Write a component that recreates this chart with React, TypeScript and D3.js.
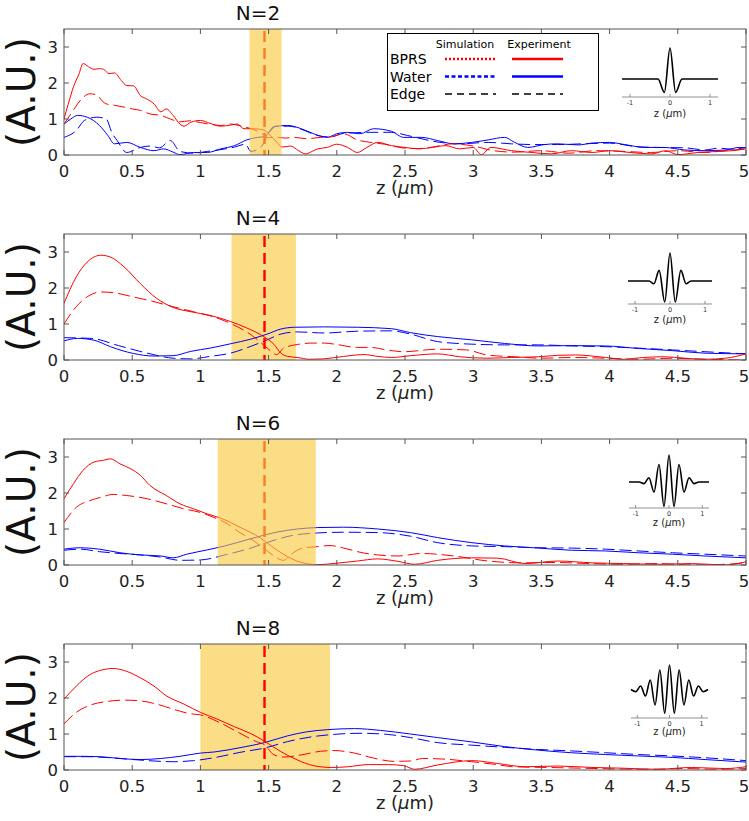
import * as d3 from "d3";

const W = 749, H = 821;
const left = 64, right = 746, panelH = 126;
const tops = [29, 234, 439, 644];

// tick labels and titles
const xTickValues = [0, 0.5, 1, 1.5, 2, 2.5, 3, 3.5, 4, 4.5, 5];
const yTickValues = [0, 1, 2, 3];
const titles = ["N=2", "N=4", "N=6", "N=8"];
const bands = [[1.36, 1.595], [1.228, 1.70], [1.127, 1.846], [1.0, 1.95]];
const edgeZ = 1.47;
const bandOnTop = [true, false, true, false];

// N=2
const redExp1 = [[0,1.0],[0.03,1.4],[0.07,1.9],[0.11,2.25],[0.14,2.54],[0.18,2.45],[0.22,2.38],[0.26,2.4],[0.29,2.38],[0.33,2.26],[0.37,2.28],[0.42,2.07],[0.46,1.93],[0.51,1.92],[0.56,1.65],[0.61,1.55],[0.66,1.42],[0.71,1.2],[0.75,1.28],[0.8,1.1],[0.85,0.86],[0.88,0.8],[0.93,0.91],[1.0,0.96],[1.07,0.88],[1.15,0.8],[1.22,0.83],[1.27,0.86],[1.32,0.73],[1.39,0.73],[1.46,0.7],[1.51,0.55],[1.56,0.36],[1.6,0.22],[1.66,0.25],[1.72,0.12],[1.77,0.03],[1.82,0.1],[1.86,0.17],[1.93,0.21],[2.0,0.3],[2.08,0.21],[2.15,0.07],[2.22,0.21],[2.3,0.35],[2.4,0.26],[2.5,0.21],[2.6,0.17],[2.7,0.21],[2.8,0.26],[2.9,0.17],[3.0,0.21],[3.06,0.01],[3.13,0.21],[3.28,0.12],[3.43,0.07],[3.57,0.03],[3.72,0.12],[3.87,0.07],[4.0,0.12],[4.15,0.07],[4.31,0.03],[4.41,0.12],[4.5,0.01],[4.65,0.07],[4.8,0.1],[4.9,0.12],[5.0,0.17]];
const redSim1 = [[0,0.86],[0.05,1.14],[0.1,1.42],[0.14,1.6],[0.19,1.7],[0.24,1.67],[0.28,1.5],[0.31,1.42],[0.37,1.38],[0.44,1.33],[0.5,1.28],[0.56,1.24],[0.63,1.14],[0.71,1.1],[0.78,1.0],[0.85,0.92],[0.92,0.95],[1.0,0.9],[1.08,0.85],[1.15,0.82],[1.22,0.86],[1.3,0.8],[1.38,0.72],[1.45,0.6],[1.5,0.48],[1.55,0.5],[1.62,0.47],[1.69,0.49],[1.78,0.45],[1.88,0.49],[1.95,0.5],[2.05,0.59],[2.15,0.42],[2.25,0.35],[2.35,0.3],[2.5,0.19],[2.6,0.18],[2.7,0.22],[2.85,0.31],[3.0,0.25],[3.15,0.12],[3.3,0.08],[3.5,0.12],[3.7,0.05],[3.9,0.12],[4.1,0.1],[4.3,0.07],[4.5,0.12],[4.7,0.07],[4.85,0.12],[5.0,0.17]];
const blueExp1 = [[0,0.86],[0.05,1.0],[0.1,1.1],[0.17,1.05],[0.26,0.82],[0.32,0.55],[0.37,0.31],[0.46,0.35],[0.56,0.21],[0.66,0.12],[0.73,0.17],[0.8,0.08],[0.85,0.01],[0.95,0.07],[1.05,0.07],[1.15,0.17],[1.25,0.26],[1.34,0.42],[1.42,0.49],[1.47,0.51],[1.54,0.79],[1.64,0.82],[1.74,0.73],[1.83,0.59],[1.93,0.49],[2.0,0.59],[2.08,0.63],[2.17,0.59],[2.27,0.73],[2.4,0.66],[2.49,0.49],[2.62,0.49],[2.74,0.4],[2.86,0.31],[2.99,0.35],[3.11,0.42],[3.23,0.49],[3.3,0.36],[3.4,0.21],[3.52,0.29],[3.62,0.31],[3.77,0.28],[3.87,0.33],[4.0,0.35],[4.11,0.29],[4.26,0.21],[4.4,0.21],[4.55,0.14],[4.7,0.12],[4.85,0.14],[4.95,0.21],[5.0,0.2]];
const blueSim1 = [[0,0.49],[0.09,0.68],[0.15,0.96],[0.24,1.05],[0.31,1.0],[0.35,0.63],[0.39,0.4],[0.46,0.07],[0.56,0.21],[0.63,0.25],[0.7,0.2],[0.78,0.4],[0.85,0.1],[0.95,0.05],[1.05,0.1],[1.15,0.15],[1.25,0.22],[1.33,0.3],[1.37,0.1],[1.45,0.25],[1.5,0.6],[1.56,0.8],[1.65,0.8],[1.75,0.7],[1.85,0.55],[1.95,0.5],[2.05,0.6],[2.15,0.62],[2.25,0.63],[2.4,0.63],[2.52,0.54],[2.74,0.36],[2.9,0.31],[3.11,0.35],[3.28,0.31],[3.45,0.29],[3.62,0.29],[3.8,0.31],[4.0,0.33],[4.2,0.23],[4.35,0.21],[4.55,0.2],[4.7,0.14],[4.8,0.19],[4.9,0.16],[5.0,0.21]];

// N=4
const redExp2 = [[0,1.57],[0.09,2.31],[0.17,2.72],[0.27,2.91],[0.34,2.86],[0.44,2.59],[0.56,2.12],[0.68,1.71],[0.8,1.46],[0.93,1.34],[1.07,1.24],[1.22,1.07],[1.34,0.89],[1.46,0.66],[1.54,0.43],[1.59,0.19],[1.64,0.1],[1.71,0.07],[1.8,0.02],[1.9,0.03],[2.05,0.1],[2.2,0.15],[2.3,0.1],[2.4,0.07],[2.54,0.12],[2.74,0.17],[2.9,0.09],[3.1,0.05],[3.28,0.07],[3.48,0.09],[3.62,0.13],[3.75,0.14],[3.97,0.07],[4.1,0.02],[4.25,0.07],[4.4,0.09],[4.55,0.05],[4.7,0.02],[4.85,0.05],[5.0,0.17]];
const redSim2 = [[0,1.0],[0.09,1.48],[0.19,1.8],[0.27,1.89],[0.36,1.87],[0.51,1.75],[0.66,1.62],[0.8,1.48],[0.95,1.34],[1.12,1.17],[1.24,0.98],[1.34,0.78],[1.42,0.56],[1.49,0.33],[1.56,0.15],[1.61,0.33],[1.71,0.43],[1.81,0.47],[1.91,0.47],[2.0,0.43],[2.15,0.35],[2.25,0.35],[2.35,0.29],[2.49,0.23],[2.74,0.3],[2.95,0.28],[3.1,0.14],[3.3,0.09],[3.5,0.05],[3.72,0.07],[3.97,0.05],[4.21,0.02],[4.46,0.05],[4.7,0.02],[5.0,0.0]];
const blueExp2 = [[0,0.53],[0.1,0.6],[0.22,0.55],[0.34,0.37],[0.51,0.18],[0.66,0.11],[0.8,0.12],[0.93,0.24],[1.07,0.33],[1.22,0.45],[1.37,0.58],[1.49,0.72],[1.59,0.86],[1.69,0.91],[1.91,0.92],[2.15,0.91],[2.4,0.87],[2.54,0.76],[2.74,0.65],[2.99,0.56],[3.23,0.46],[3.48,0.39],[3.72,0.4],[3.97,0.39],[4.21,0.32],[4.46,0.26],[4.7,0.19],[5.0,0.17]];
const blueSim2 = [[0,0.62],[0.2,0.6],[0.4,0.4],[0.6,0.2],[0.8,0.05],[0.93,0.03],[1.07,0.1],[1.22,0.19],[1.37,0.38],[1.49,0.56],[1.59,0.72],[1.71,0.78],[1.91,0.75],[2.15,0.8],[2.4,0.81],[2.54,0.72],[2.74,0.51],[2.99,0.44],[3.23,0.42],[3.48,0.42],[3.72,0.39],[3.97,0.37],[4.21,0.33],[4.46,0.28],[4.7,0.23],[5.0,0.17]];

// N=6
const redExp3 = [[0,1.84],[0.07,2.26],[0.14,2.63],[0.22,2.86],[0.29,2.91],[0.34,2.95],[0.41,2.81],[0.49,2.67],[0.56,2.49],[0.63,2.21],[0.75,1.93],[0.85,1.7],[0.95,1.56],[1.05,1.42],[1.15,1.3],[1.29,1.05],[1.44,0.75],[1.54,0.47],[1.64,0.23],[1.74,0.07],[1.86,0.01],[2.0,0.05],[2.15,0.11],[2.3,0.17],[2.45,0.1],[2.57,0.02],[2.74,0.13],[2.99,0.2],[3.18,0.19],[3.38,0.04],[3.62,0.11],[3.87,0.06],[4.1,0.04],[4.35,0.02],[4.6,0.04],[4.85,0.0],[5.0,0.09]];
const redSim3 = [[0,1.18],[0.09,1.6],[0.19,1.79],[0.27,1.88],[0.36,1.96],[0.46,1.93],[0.61,1.84],[0.75,1.7],[0.88,1.56],[1.0,1.46],[1.1,1.32],[1.2,1.14],[1.29,0.9],[1.39,0.67],[1.49,0.39],[1.56,0.2],[1.61,0.13],[1.66,0.28],[1.75,0.47],[1.86,0.51],[1.95,0.54],[2.05,0.47],[2.2,0.33],[2.3,0.28],[2.45,0.25],[2.62,0.32],[2.86,0.25],[3.11,0.11],[3.35,0.06],[3.6,0.07],[3.85,0.04],[4.1,0.02],[4.35,0.04],[4.6,0.0],[4.85,0.02],[5.0,0.06]];
const blueExp3 = [[0,0.44],[0.12,0.48],[0.26,0.44],[0.41,0.34],[0.56,0.28],[0.71,0.25],[0.8,0.2],[0.9,0.3],[1.05,0.42],[1.18,0.53],[1.37,0.73],[1.57,0.92],[1.71,1.0],[1.86,1.04],[2.05,1.05],[2.3,1.0],[2.54,0.9],[2.74,0.76],[2.99,0.62],[3.23,0.53],[3.48,0.47],[3.72,0.41],[3.97,0.39],[4.21,0.34],[4.46,0.3],[4.7,0.25],[5.0,0.2]];
const blueSim3 = [[0,0.41],[0.12,0.44],[0.26,0.37],[0.41,0.32],[0.56,0.28],[0.71,0.22],[0.85,0.13],[1.0,0.14],[1.18,0.28],[1.37,0.47],[1.51,0.65],[1.66,0.81],[1.86,0.89],[2.05,0.91],[2.3,0.9],[2.54,0.8],[2.74,0.62],[2.99,0.53],[3.23,0.51],[3.48,0.48],[3.72,0.47],[3.97,0.44],[4.21,0.39],[4.46,0.34],[4.7,0.3],[5.0,0.25]];

// N=8
const redExp4 = [[0,1.97],[0.09,2.33],[0.19,2.65],[0.26,2.76],[0.36,2.82],[0.46,2.74],[0.56,2.56],[0.66,2.33],[0.75,2.06],[0.88,1.83],[1.0,1.6],[1.12,1.42],[1.25,1.2],[1.37,1.01],[1.47,0.8],[1.59,0.51],[1.71,0.28],[1.83,0.12],[1.96,0.07],[2.08,0.09],[2.23,0.15],[2.38,0.15],[2.49,0.12],[2.57,0.02],[2.74,0.14],[2.99,0.26],[3.18,0.18],[3.38,0.09],[3.62,0.11],[3.87,0.07],[4.1,0.05],[4.35,0.02],[4.6,0.07],[4.85,0.04],[5.0,0.09]];
const redSim4 = [[0,1.28],[0.09,1.6],[0.19,1.8],[0.31,1.9],[0.44,1.94],[0.56,1.92],[0.68,1.83],[0.8,1.69],[0.93,1.56],[1.0,1.53],[1.15,1.3],[1.29,1.02],[1.41,0.79],[1.47,0.7],[1.54,0.42],[1.61,0.36],[1.74,0.42],[1.88,0.52],[1.98,0.54],[2.13,0.47],[2.27,0.33],[2.42,0.24],[2.54,0.25],[2.63,0.32],[2.8,0.3],[2.99,0.23],[3.15,0.16],[3.3,0.09],[3.55,0.07],[3.8,0.05],[4.05,0.03],[4.3,0.02],[4.55,0.04],[4.8,0.02],[5.0,0.04]];
const blueExp4 = [[0,0.38],[0.15,0.38],[0.26,0.37],[0.41,0.32],[0.56,0.29],[0.71,0.32],[0.85,0.38],[1.0,0.47],[1.1,0.5],[1.29,0.62],[1.47,0.76],[1.64,0.95],[1.78,1.06],[1.93,1.12],[2.13,1.15],[2.32,1.1],[2.54,1.0],[2.74,0.9],[2.99,0.78],[3.23,0.65],[3.48,0.55],[3.72,0.48],[3.97,0.43],[4.21,0.39],[4.46,0.35],[4.7,0.29],[5.0,0.22]];
const blueSim4 = [[0,0.37],[0.17,0.37],[0.34,0.34],[0.51,0.29],[0.66,0.25],[0.8,0.23],[0.95,0.26],[1.1,0.34],[1.29,0.49],[1.47,0.61],[1.64,0.79],[1.83,0.93],[1.98,0.99],[2.17,1.02],[2.37,0.99],[2.54,0.9],[2.74,0.76],[2.99,0.69],[3.23,0.63],[3.48,0.57],[3.72,0.53],[3.97,0.48],[4.21,0.43],[4.46,0.39],[4.7,0.34],[5.0,0.26]];

// inset pulse shapes (extrema)
const pulse2 = [[-1.2,0],[-0.3,0],[-0.14,-0.43],[0,1],[0.14,-0.43],[0.3,0],[1.2,0]];
const pulse4 = [[-1.2,0],[-0.6,0],[-0.46,-0.1],[-0.31,0.38],[-0.15,-0.75],[0,1],[0.15,-0.75],[0.31,0.38],[0.46,-0.1],[0.6,0],[1.2,0]];
const pulse6 = [[-1.2,0],[-0.9,0],[-0.75,-0.06],[-0.6,0.16],[-0.45,-0.375],[-0.3,0.65],[-0.15,-0.91],[0,1],[0.15,-0.91],[0.3,0.65],[0.45,-0.375],[0.6,0.16],[0.75,-0.06],[0.9,0],[1.2,0]];
const pulse8 = [[-1.2,0.02],[-1.05,-0.07],[-0.9,0.16],[-0.75,-0.24],[-0.6,0.4],[-0.45,-0.6],[-0.3,0.8],[-0.15,-0.93],[0,1],[0.15,-0.93],[0.3,0.8],[0.45,-0.6],[0.6,0.4],[0.75,-0.24],[0.9,0.16],[1.05,-0.07],[1.2,0.02]];
const insetTicks = [-1, 0, 1];

const panels = [
  {redExp: redExp1, redSim: redSim1, blueExp: blueExp1, blueSim: blueSim1, pulse: pulse2},
  {redExp: redExp2, redSim: redSim2, blueExp: blueExp2, blueSim: blueSim2, pulse: pulse4},
  {redExp: redExp3, redSim: redSim3, blueExp: blueExp3, blueSim: blueSim3, pulse: pulse6},
  {redExp: redExp4, redSim: redSim4, blueExp: blueExp4, blueSim: blueSim4, pulse: pulse8},
];

// inset placement per panel
const insets = [
  {x0: 622, x1: 718, base: 79, amp: 31, axisY: 97, labelY: 117},
  {x0: 628, x1: 712, base: 281, amp: 28, axisY: 304, labelY: 323},
  {x0: 629, x1: 709, base: 482, amp: 27, axisY: 508, labelY: 526},
  {x0: 631, x1: 708, base: 690, amp: 25, axisY: 718, labelY: 735},
];

const font = "DejaVu Sans, sans-serif";
const axisColor = "#555";
const bandFill = "#F8C83C";

const ZLabel = ({x, y, size, fill}: any) => (
  <text x={x} y={y} fontSize={size} fill={fill} textAnchor="middle" fontFamily={font}>
    z (<tspan fontStyle="italic">μ</tspan>m)
  </text>
);

const Inset = ({spec, pulse}: any) => {
  const xs = d3.scaleLinear().domain([-1.2, 1.2]).range([spec.x0, spec.x1]);
  const ys = d3.scaleLinear().domain([0, 1]).range([spec.base, spec.base - spec.amp]);
  const line = d3.line<number[]>().x(d => xs(d[0])).y(d => ys(d[1])).curve(d3.curveMonotoneX);
  return (
    <g>
      <path d={line(pulse) ?? ""} fill="none" stroke="#000" strokeWidth={1.6}/>
      <line x1={spec.x0} x2={spec.x1} y1={spec.axisY} y2={spec.axisY} stroke="#777" strokeWidth={0.8}/>
      {insetTicks.map(t => (
        <g key={t}>
          <line x1={xs(t)} x2={xs(t)} y1={spec.axisY} y2={spec.axisY - 3} stroke="#777" strokeWidth={0.8}/>
          <text x={xs(t)} y={spec.axisY + 7.5} fontSize={6.5} fill="#333" textAnchor="middle" fontFamily={font}>{t}</text>
        </g>
      ))}
      <ZLabel x={(spec.x0 + spec.x1) / 2} y={spec.labelY} size={10} fill="#222"/>
    </g>
  );
};

const Panel = ({i}: {i: number}) => {
  const top = tops[i];
  const bottom = top + panelH;
  const p = panels[i];
  const x = d3.scaleLinear().domain([0, 5]).range([left, right]);
  const y = d3.scaleLinear().domain([0, 3.5]).range([bottom, top]);
  const line = d3.line<number[]>().x(d => x(d[0])).y(d => y(d[1])).curve(d3.curveMonotoneX);
  const [b0, b1] = bands[i];
  const band = (
    <rect x={x(b0)} y={top} width={x(b1) - x(b0)} height={panelH} fill={bandFill} opacity={0.62}/>
  );
  const clipId = `clip${i}`;
  return (
    <g>
      <clipPath id={clipId}><rect x={left} y={top} width={right - left} height={panelH}/></clipPath>
      {!bandOnTop[i] && band}
      <g clipPath={`url(#${clipId})`}>
        <path d={line(p.blueSim) ?? ""} fill="none" stroke="#0000ff" strokeWidth={1} strokeDasharray="12,5"/>
        <path d={line(p.blueExp) ?? ""} fill="none" stroke="#0000ff" strokeWidth={1}/>
        <path d={line(p.redSim) ?? ""} fill="none" stroke="#ff0000" strokeWidth={1} strokeDasharray="12,5"/>
        <path d={line(p.redExp) ?? ""} fill="none" stroke="#ff0000" strokeWidth={1}/>
        <line x1={x(edgeZ)} x2={x(edgeZ)} y1={top + 2} y2={bottom} stroke="#ff0000" strokeWidth={2.4} strokeDasharray="11,6"/>
      </g>
      {bandOnTop[i] && band}
      <rect x={left} y={top} width={right - left} height={panelH} fill="none" stroke={axisColor} strokeWidth={1}/>
      {xTickValues.map(t => (
        <g key={t}>
          <line x1={x(t)} x2={x(t)} y1={bottom} y2={bottom - 5} stroke={axisColor}/>
          <line x1={x(t)} x2={x(t)} y1={top} y2={top + 5} stroke={axisColor}/>
          <text x={t === 5 ? x(t) - 2 : x(t)} y={bottom + 22} fontSize={16.5} textAnchor="middle" fontFamily={font} fill="#222">{t}</text>
        </g>
      ))}
      {yTickValues.map(t => (
        <g key={t}>
          <line x1={left} x2={left + 5} y1={y(t)} y2={y(t)} stroke={axisColor}/>
          <line x1={right} x2={right - 5} y1={y(t)} y2={y(t)} stroke={axisColor}/>
          <text x={58} y={y(t) + 6} fontSize={16.5} textAnchor="end" fontFamily={font} fill="#222">{t}</text>
        </g>
      ))}
      <text x={258} y={top - 9.5} fontSize={20} textAnchor="middle" fontFamily={font} fill="#111">{titles[i]}</text>
      <text transform={`translate(35,${top + panelH / 2}) rotate(-90)`} fontSize={39} textAnchor="middle" fontFamily={font} fill="#111">(A.U.)</text>
      <ZLabel x={(left + right) / 2} y={bottom + 39} size={18} fill="#222"/>
      <Inset spec={insets[i]} pulse={p.pulse}/>
    </g>
  );
};

const legendRows = ["BPRS", "Water", "Edge"];
const legendColors = ["#ff0000", "#0000ff", "#000"];
const legendSimDash = ["2,2", "4,2.5", "7,5"];
const legendWidths = [2.6, 2.6, 1.5];

const Legend = () => {
  const rowY = d3.scalePoint<string>().domain(legendRows).range([59, 94]);
  return (
    <g fontFamily={font}>
      <rect x={387.5} y={33.5} width={211} height={77} fill="#fff" stroke="#000" strokeWidth={1}/>
      <text x={465} y={48} fontSize={11} textAnchor="middle">Simulation</text>
      <text x={539} y={48} fontSize={11} textAnchor="middle">Experiment</text>
      {legendRows.map((r, k) => (
        <g key={r}>
          <text x={390} y={(rowY(r) ?? 0) + 5} fontSize={14}>{r}</text>
          <line x1={445} x2={496} y1={rowY(r)} y2={rowY(r)} stroke={legendColors[k]} strokeWidth={legendWidths[k]} strokeDasharray={legendSimDash[k]}/>
          <line x1={512} x2={563} y1={rowY(r)} y2={rowY(r)} stroke={legendColors[k]} strokeWidth={legendWidths[k]} strokeDasharray={k === 2 ? "7,5" : undefined}/>
        </g>
      ))}
    </g>
  );
};

export default function App() {
  return (
    <svg width={W} height={H} style={{position: "absolute", left: 0, top: 0, background: "#fff"}}>
      {tops.map((_, i) => <Panel key={i} i={i}/>)}
      <Legend/>
    </svg>
  );
}
